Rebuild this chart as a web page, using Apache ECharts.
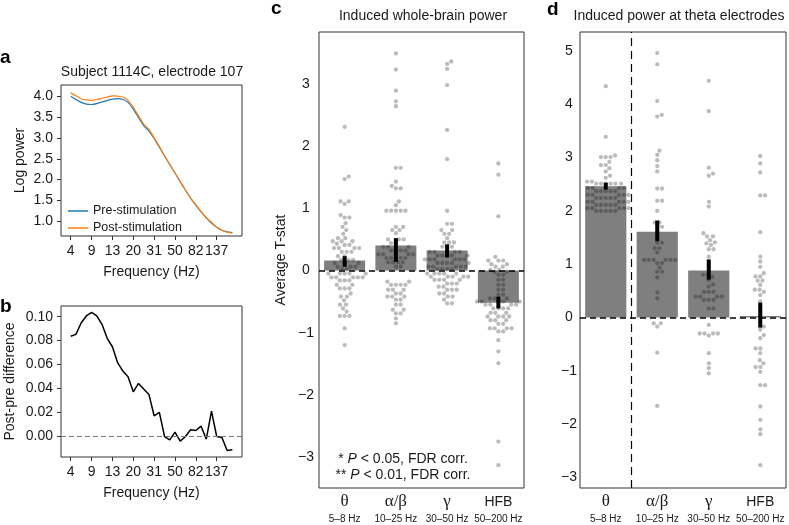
<!DOCTYPE html>
<html>
<head>
<meta charset="utf-8">
<script src="https://cdn.jsdelivr.net/npm/echarts@6/dist/echarts.min.js"></script>
<style>
html,body{margin:0;padding:0;background:#fff;}
#main{width:789px;height:525px;}
</style>
</head>
<body>
<div id="main"></div>
<script>
// ---------- Panel a / b data ----------
const freqTickIdx = [0, 4, 8, 12, 16, 20, 24, 28];
const freqTickLabels = ['4', '9', '13', '20', '31', '50', '82', '137'];
const preStim = [4.01,3.93,3.86,3.82,3.81,3.83,3.87,3.91,3.94,3.95,3.93,3.86,3.70,3.50,3.30,3.17,2.99,2.78,2.57,2.36,2.16,1.95,1.75,1.55,1.38,1.22,1.08,0.95,0.85,0.78,0.74,0.72];
const postStim = [4.09,4.02,3.95,3.92,3.91,3.93,3.96,3.99,4.02,4.01,3.99,3.91,3.74,3.54,3.34,3.21,3.01,2.80,2.57,2.36,2.16,1.95,1.75,1.56,1.39,1.23,1.08,0.97,0.85,0.78,0.73,0.71];
const postMinusPre = [0.0836,0.0852,0.0947,0.1006,0.1036,0.1006,0.0936,0.0819,0.0749,0.0616,0.0546,0.0499,0.0373,0.0443,0.0396,0.0351,0.0173,0.0201,0.0,-0.0028,0.0036,-0.0039,0.0,0.0056,0.0050,0.0086,-0.0022,0.0212,0.0,-0.0008,-0.0117,-0.0111];
const logPowerTicks = [1.0, 1.5, 2.0, 2.5, 3.0, 3.5, 4.0];
const diffTicks = [0, 0.02, 0.04, 0.06, 0.08, 0.10];

// ---------- Panel c / d data ----------
const bandNames = ['θ', 'α/β', 'γ', 'HFB'];
const bandRanges = ['5–8 Hz', '10–25 Hz', '30–50 Hz', '50–200 Hz'];
const cTicks = [-3, -2, -1, 0, 1, 2, 3];
const dTicks = [-3, -2, -1, 0, 1, 2, 3, 4, 5];

const cBarMeans = [0.16, 0.40, 0.32, -0.52];
const cErrLow = [0.06, 0.14, 0.21, -0.61];
const cErrHigh = [0.23, 0.52, 0.42, -0.42];
const cSigText = ['*', '**', '**', '**'];
const cSigY = [1.78, 1.78, 1.15, -1.76];

const cTheta = [2.31,1.51,1.47,1.11,1.11,1.07,0.89,0.85,0.85,0.76,0.70,0.65,0.59,0.52,0.52,0.47,0.47,0.47,0.43,0.41,0.41,0.36,0.36,0.36,0.36,0.30,0.30,0.30,0.23,0.23,0.17,0.17,0.17,0.12,0.12,0.12,0.06,0.06,0.06,0.02,0.02,
 -0.05,-0.05,-0.05,-0.05,-0.05,-0.11,-0.11,-0.11,-0.11,-0.11,-0.16,-0.16,-0.16,-0.23,-0.23,-0.29,-0.29,-0.29,-0.37,-0.42,-0.42,-0.48,-0.55,-0.55,-0.61,-0.66,-0.73,-0.73,-0.73,-0.93,-1.20];
const cAlphaBeta = [3.49,3.23,2.89,2.72,2.64,1.65,1.65,1.43,1.36,1.32,1.32,1.11,1.05,0.96,0.96,0.96,0.96,0.96,0.70,0.70,0.65,0.65,0.60,0.50,0.50,0.50,0.44,0.44,
 0.38,0.38,0.38,0.32,0.32,0.32,0.32,0.26,0.26,0.26,0.26,0.20,0.20,0.20,0.20,0.20,0.13,0.13,0.13,0.13,0.06,0.06,
 -0.18,-0.18,-0.23,-0.23,-0.23,-0.23,-0.31,-0.31,-0.31,-0.37,-0.37,-0.42,-0.42,-0.42,-0.47,-0.47,-0.55,-0.55,-0.63,-0.63,-0.69,-0.69,-0.77,-0.85];
const cGamma = [3.36,3.32,3.24,2.98,2.26,1.79,0.96,0.75,0.75,0.65,0.65,0.59,0.59,0.52,0.45,0.45,0.45,0.38,0.38,0.38,
 0.30,0.30,0.30,0.30,0.24,0.24,0.24,0.24,0.24,0.18,0.18,0.18,0.18,0.18,0.18,0.12,0.12,0.12,0.12,0.12,0.06,0.06,0.06,0.06,0.06,0.02,0.02,0.02,0.02,
 -0.05,-0.05,-0.05,-0.05,-0.05,-0.10,-0.10,-0.10,-0.10,-0.10,-0.15,-0.15,-0.15,-0.15,-0.21,-0.21,-0.21,-0.26,-0.26,-0.31,-0.31,-0.31,-0.37,-0.37,-0.42,-0.42,-0.47,-0.53,-0.53];
const cHFB = [1.72,1.54,0.87,0.22,0.16,0.16,0.16,0.10,0.10,0.06,0.06,0.01,0.01,
 -0.02,-0.02,-0.07,-0.07,-0.15,-0.15,-0.23,-0.23,-0.31,-0.31,-0.39,-0.39,-0.45,-0.45,-0.45,-0.50,-0.50,-0.50,-0.50,-0.50,-0.55,-0.55,-0.55,-0.55,-0.61,-0.61,-0.61,-0.61,-0.68,-0.68,-0.68,-0.74,-0.74,-0.74,-0.74,-0.80,-0.80,-0.80,-0.86,-0.86,-0.93,-0.93,-0.93,-0.93,-0.98,-0.98,-1.12,-1.30,-1.49,-2.75,-3.13];

const dBarMeans = [2.46, 1.61, 0.88, 0.03];
const dErrLow = [2.40, 1.43, 0.71, -0.19];
const dErrHigh = [2.53, 1.82, 1.09, 0.28];
const dNoteCat = [0, 3];
const dNoteText = ['N/A', 'n.s.'];
const dNoteY = [3.65, 1.28];
const dDividerAfter = 0;

const dTheta = [4.34,3.39,3.04,3.01,3.01,3.01,2.92,2.86,2.86,2.80,2.74,2.66,2.62,2.55,2.55,2.51,2.51,2.51,2.51,2.51,2.51,
 2.43,2.43,2.43,2.43,2.37,2.37,2.37,2.37,2.37,2.30,2.30,2.30,2.30,2.30,2.24,2.24,2.24,2.24,2.24,2.17,2.17,2.17,2.17,2.17,2.11,2.11,2.11,2.11,2.11,2.05,2.05,2.05,2.05,2.05,2.00,2.00,2.00,2.00,2.00];
const dAlphaBeta = [4.96,4.75,4.06,3.80,3.77,3.13,3.05,2.95,2.84,2.74,2.42,2.42,2.19,2.19,2.00,1.78,1.78,1.70,1.70,1.61,1.52,1.40,1.40,1.30,1.30,1.22,1.08,1.08,1.08,1.08,1.08,1.08,1.02,1.02,0.94,0.86,0.86,0.75,0.47,0.36,-0.11,-0.11,-0.17,-0.66,-1.66];
const dGamma = [4.44,3.87,2.81,2.70,2.66,2.17,2.08,1.58,1.52,1.52,1.45,1.41,1.39,1.36,1.28,1.28,1.14,0.97,0.80,0.80,0.76,0.70,0.62,0.58,0.48,0.48,0.48,0.39,0.39,0.39,0.39,0.33,0.33,0.33,0.17,0.17,-0.14,-0.30,-0.30,-0.30,-0.30,-0.34,-0.67,-0.86,-0.95,-1.05];
const dHFB = [3.03,2.89,2.72,2.29,2.29,1.60,1.14,1.05,0.95,0.83,0.77,0.77,0.69,0.69,0.61,0.52,0.52,0.48,0.42,0.30,0.20,0.11,0.02,-0.08,-0.17,-0.23,-0.33,-0.39,-0.58,-0.58,-0.67,-0.80,-0.86,-0.93,-0.93,-1.02,-1.27,-1.27,-1.67,-1.92,-2.10,-2.19,-2.77];

// ---------- layout ----------
const FONT = 'Liberation Sans';
const TXT = '#1a1a1a';
const FRAME = '#333';
const grids = [
  {left: 61, top: 85, width: 181, height: 151},
  {left: 61, top: 306, width: 181, height: 151},
  {left: 319, top: 32, width: 205, height: 456},
  {left: 580, top: 32, width: 206, height: 456}
];
const cRange = [-3.497, 3.834];
const dRange = [-3.199, 5.356];
const DOT = 4.8;

function swarm(values, pxY, d) {
  const order = values.map((_, i) => i).sort((a, b) => values[a] - values[b]);
  const placed = [];
  const out = new Array(values.length);
  order.forEach(i => {
    const y = values[i] * pxY;
    const cands = [0];
    placed.forEach(p => {
      const dy = Math.abs(y - p.y);
      if (dy < d) {
        const dx = Math.sqrt(d * d - dy * dy);
        cands.push(p.x + dx, p.x - dx);
      }
    });
    cands.sort((a, b) => Math.abs(a) - Math.abs(b));
    let x = 0;
    for (const c of cands) {
      if (placed.every(p => (p.x - c) * (p.x - c) + (p.y - y) * (p.y - y) >= d * d - 1e-6)) { x = c; break; }
    }
    placed.push({x, y});
    out[i] = x;
  });
  return out;
}

function swarmData(groups, grid, range) {
  const pxY = grid.height / (range[1] - range[0]);
  const pxX = grid.width / groups.length;
  const data = [];
  groups.forEach((vals, ci) => {
    const offs = swarm(vals, pxY, DOT);
    vals.forEach((v, k) => data.push([ci + offs[k] / pxX, v]));
  });
  return data;
}

const minusFmt = v => (v < 0 ? '−' + Math.abs(v) : String(v));

function errRender(params, api) {
  const x = api.value(0);
  const lo = api.coord([x, api.value(1)]);
  const hi = api.coord([x, api.value(2)]);
  return {type: 'line', shape: {x1: lo[0], y1: lo[1], x2: hi[0], y2: hi[1]},
          style: {stroke: '#000', lineWidth: 4}};
}

const bandLabel = {
  margin: 4,
  interval: 0,
  formatter: (val, idx) => (val === 'HFB' ? '{h|HFB}' : '{g|' + val + '}') + '\n{s|' + bandRanges[idx] + '}',
  rich: {
    g: {fontFamily: 'Liberation Serif', fontSize: 17, lineHeight: 20, color: TXT},
    h: {fontFamily: FONT, fontSize: 14, lineHeight: 20, color: TXT},
    s: {fontFamily: FONT, fontSize: 10, lineHeight: 14, color: TXT}
  }
};

const freqAxis = gi => ({
  gridIndex: gi, type: 'value', min: -1.86, max: 32.85,
  axisLine: {show: false, onZero: false}, splitLine: {show: false},
  axisTick: {show: true, length: 4, customValues: freqTickIdx, lineStyle: {color: FRAME}},
  axisLabel: {customValues: freqTickIdx, margin: 8, fontFamily: FONT, fontSize: 14, color: TXT,
              formatter: v => freqTickLabels[freqTickIdx.indexOf(v)]},
  name: 'Frequency (Hz)', nameLocation: 'middle', nameGap: 29,
  nameTextStyle: {fontFamily: FONT, fontSize: 14, color: TXT}
});

const nameStyle = {fontFamily: FONT, fontSize: 14, color: TXT};

const option = {
  animation: false,
  backgroundColor: '#fff',
  textStyle: {fontFamily: FONT},
  grid: grids.map(g => Object.assign({show: true, borderColor: FRAME, borderWidth: 1, backgroundColor: 'transparent'}, g)),
  legend: {
    data: ['Pre-stimulation', 'Post-stimulation'],
    orient: 'vertical', left: 63, top: 199, itemWidth: 20, itemHeight: 1.5, itemGap: 3, icon: 'rect',
    textStyle: {fontFamily: FONT, fontSize: 12.5, color: TXT, lineHeight: 14}
  },
  xAxis: [
    freqAxis(0),
    freqAxis(1),
    {gridIndex: 2, type: 'category', data: bandNames, axisLine: {show: false, onZero: false}, axisTick: {show: false}, axisLabel: bandLabel},
    {gridIndex: 2, type: 'value', min: -0.5, max: 3.5, show: false, axisLine: {onZero: false}},
    {gridIndex: 3, type: 'category', data: bandNames, axisLine: {show: false, onZero: false}, axisTick: {show: false}, axisLabel: bandLabel},
    {gridIndex: 3, type: 'value', min: -0.5, max: 3.5, show: false, axisLine: {onZero: false}}
  ],
  yAxis: [
    {gridIndex: 0, type: 'value', min: 0.64, max: 4.28, splitLine: {show: false}, axisLine: {show: false, onZero: false},
     axisTick: {show: true, length: 4, customValues: logPowerTicks, lineStyle: {color: FRAME}},
     axisLabel: {customValues: logPowerTicks, margin: 8, fontFamily: FONT, fontSize: 14, color: TXT, formatter: v => v.toFixed(1)},
     name: 'Log power', nameLocation: 'middle', nameGap: 34, nameTextStyle: nameStyle},
    {gridIndex: 1, type: 'value', min: -0.0171, max: 0.1089, splitLine: {show: false}, axisLine: {show: false, onZero: false},
     axisTick: {show: true, length: 4, customValues: diffTicks, lineStyle: {color: FRAME}},
     axisLabel: {customValues: diffTicks, margin: 8, fontFamily: FONT, fontSize: 14, color: TXT, formatter: v => v.toFixed(2)},
     name: 'Post-pre difference', nameLocation: 'middle', nameGap: 44, nameTextStyle: nameStyle},
    {gridIndex: 2, type: 'value', min: cRange[0], max: cRange[1], splitLine: {show: false}, axisLine: {show: false, onZero: false},
     axisTick: {show: false},
     axisLabel: {customValues: cTicks, margin: 13, align: 'center', fontFamily: FONT, fontSize: 14, color: TXT, formatter: minusFmt},
     name: 'Average T-stat', nameLocation: 'middle', nameGap: 31, nameTextStyle: nameStyle},
    {gridIndex: 3, type: 'value', min: dRange[0], max: dRange[1], splitLine: {show: false}, axisLine: {show: false, onZero: false},
     axisTick: {show: false},
     axisLabel: {customValues: dTicks, margin: 11, align: 'center', fontFamily: FONT, fontSize: 14, color: TXT, formatter: minusFmt}}
  ],
  series: [
    {type: 'line', name: 'Pre-stimulation', xAxisIndex: 0, yAxisIndex: 0, data: preStim.map((v, i) => [i, v]),
     symbol: 'none', smooth: 0.2, color: '#1f77b4', lineStyle: {width: 1.2, color: '#1f77b4'}},
    {type: 'line', name: 'Post-stimulation', xAxisIndex: 0, yAxisIndex: 0, data: postStim.map((v, i) => [i, v]),
     symbol: 'none', smooth: 0.2, color: '#ff7f0e', lineStyle: {width: 1.2, color: '#ff7f0e'}},
    {type: 'line', name: 'diff', xAxisIndex: 1, yAxisIndex: 1, data: postMinusPre.map((v, i) => [i, v]),
     symbol: 'none', lineStyle: {width: 1.5, color: '#000'}, color: '#000',
     markLine: {silent: true, symbol: 'none', label: {show: false},
                lineStyle: {type: [5, 3], color: '#777', width: 1}, data: [{yAxis: 0}]}},

    // panel c
    {type: 'scatter', xAxisIndex: 3, yAxisIndex: 2, z: 1, symbolSize: 4.3,
     itemStyle: {color: '#aaaaaa'},
     data: swarmData([cTheta, cAlphaBeta, cGamma, cHFB], grids[2], cRange)},
    {type: 'bar', xAxisIndex: 2, yAxisIndex: 2, z: 2, barWidth: '80%', data: cBarMeans,
     itemStyle: {color: 'rgba(0,0,0,0.5)'},
     markLine: {silent: true, symbol: 'none', label: {show: false},
                lineStyle: {type: [6, 4], color: '#000', width: 1.5}, data: [{yAxis: 0}]}},
    {type: 'custom', xAxisIndex: 2, yAxisIndex: 2, z: 3, renderItem: errRender,
     data: cBarMeans.map((_, i) => [i, cErrLow[i], cErrHigh[i]])},
    {type: 'scatter', xAxisIndex: 3, yAxisIndex: 2, z: 5, symbolSize: 1, itemStyle: {opacity: 0},
     label: {show: true, position: 'inside', formatter: p => p.name, fontFamily: FONT, fontSize: 14, color: TXT},
     data: cSigText.map((t, i) => ({name: t, value: [i, cSigY[i]]}))},

    // panel d
    {type: 'scatter', xAxisIndex: 5, yAxisIndex: 3, z: 1, symbolSize: 4.3,
     itemStyle: {color: '#aaaaaa'},
     data: swarmData([dTheta, dAlphaBeta, dGamma, dHFB], grids[3], dRange),
     markLine: {silent: true, symbol: 'none', label: {show: false},
                lineStyle: {type: [8, 5], color: '#000', width: 1.2}, data: [{xAxis: dDividerAfter + 0.5}]}},
    {type: 'bar', xAxisIndex: 4, yAxisIndex: 3, z: 2, barWidth: '80%', data: dBarMeans,
     itemStyle: {color: 'rgba(0,0,0,0.5)'},
     markLine: {silent: true, symbol: 'none', label: {show: false},
                lineStyle: {type: [6, 4], color: '#000', width: 1.5}, data: [{yAxis: 0}]}},
    {type: 'custom', xAxisIndex: 4, yAxisIndex: 3, z: 3, renderItem: errRender,
     data: dBarMeans.map((_, i) => [i, dErrLow[i], dErrHigh[i]])},
    {type: 'scatter', xAxisIndex: 5, yAxisIndex: 3, z: 5, symbolSize: 1, itemStyle: {opacity: 0},
     label: {show: true, position: 'inside', formatter: p => p.name, fontFamily: FONT, fontSize: 15, color: TXT},
     data: dNoteText.map((t, i) => ({name: t, value: [dNoteCat[i], dNoteY[i]]}))}
  ],
  graphic: [
    {type: 'text', x: 152, y: 72, style: {text: 'Subject 1114C, electrode 107', font: '14px "Liberation Sans"', fill: TXT, align: 'center', verticalAlign: 'middle'}},
    {type: 'text', x: 423, y: 16, style: {text: 'Induced whole-brain power', font: '14px "Liberation Sans"', fill: TXT, align: 'center', verticalAlign: 'middle'}},
    {type: 'text', x: 679, y: 16, style: {text: 'Induced power at theta electrodes', font: '14px "Liberation Sans"', fill: TXT, align: 'center', verticalAlign: 'middle'}},
    {type: 'text', x: 403, y: 459, style: {text: '* {it|P} < 0.05, FDR corr.', font: '14px "Liberation Sans"', fill: TXT, align: 'center', verticalAlign: 'middle',
      rich: {it: {fontStyle: 'italic', fontFamily: FONT, fontSize: 14, fill: TXT}}}},
    {type: 'text', x: 403, y: 475, style: {text: '** {it|P} < 0.01, FDR corr.', font: '14px "Liberation Sans"', fill: TXT, align: 'center', verticalAlign: 'middle',
      rich: {it: {fontStyle: 'italic', fontFamily: FONT, fontSize: 14, fill: TXT}}}},
    {type: 'text', x: 0, y: 58, style: {text: 'a', font: 'bold 19px "Liberation Sans"', fill: '#000', align: 'left', verticalAlign: 'middle'}},
    {type: 'text', x: 0, y: 307, style: {text: 'b', font: 'bold 19px "Liberation Sans"', fill: '#000', align: 'left', verticalAlign: 'middle'}},
    {type: 'text', x: 271, y: 9, style: {text: 'c', font: 'bold 19px "Liberation Sans"', fill: '#000', align: 'left', verticalAlign: 'middle'}},
    {type: 'text', x: 547, y: 10, style: {text: 'd', font: 'bold 19px "Liberation Sans"', fill: '#000', align: 'left', verticalAlign: 'middle'}}
  ]
};

const chart = echarts.init(document.getElementById('main'));
chart.setOption(option);
</script>
</body>
</html>
